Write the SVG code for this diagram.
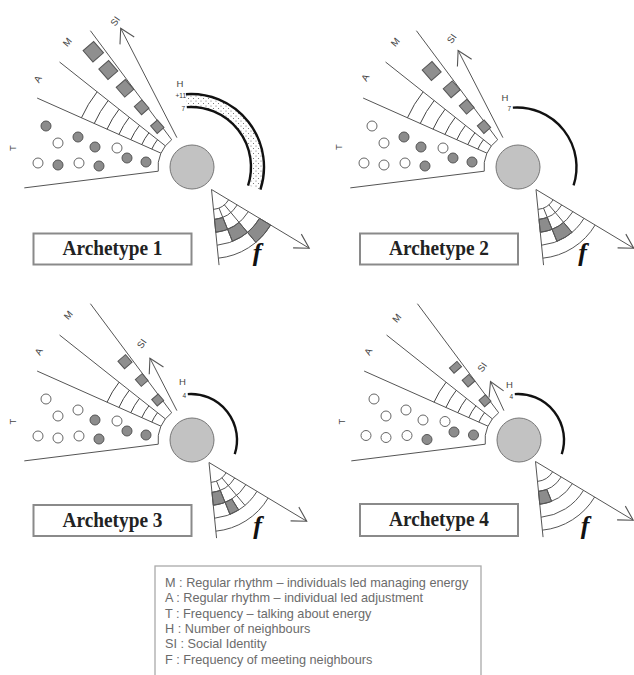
<svg xmlns="http://www.w3.org/2000/svg" xmlns:xlink="http://www.w3.org/1999/xlink" width="634" height="675" viewBox="0 0 634 675">
<style>
.ln{fill:none;stroke:#555;stroke-width:1}
.arc{fill:none;stroke:#444;stroke-width:1}
.hub{fill:#c2c2c2;stroke:#777;stroke-width:1}
.dw{fill:#fff;stroke:#666;stroke-width:1}
.df{fill:#8c8c8c;stroke:#555;stroke-width:1}
.sq{fill:#8f8f8f;stroke:#555;stroke-width:1}
.cell{fill:#8c8c8c;stroke:#555;stroke-width:1}
.harc{fill:none;stroke:#111;stroke-width:2.4}
.lbl{font-family:"Liberation Sans",Arial,sans-serif;font-size:9.5px;fill:#444;text-anchor:middle;dominant-baseline:central}
.tiny{font-family:"Liberation Sans",Arial,sans-serif;font-size:6.5px;fill:#333;text-anchor:end}
.box{fill:#fff;stroke:#8a8a8a;stroke-width:2}
.title{font-family:"Liberation Serif","Times New Roman",serif;font-weight:bold;font-size:22px;fill:#222;text-anchor:middle}
.fl{font-family:"Liberation Serif","Times New Roman",serif;font-weight:bold;font-style:italic;font-size:26px;fill:#111;text-anchor:middle}
.leg{font-family:"Liberation Sans",Arial,sans-serif;font-size:12.7px;fill:#6b6b6b}
.conn{fill:none;stroke:#555;stroke-width:1;marker-end:url(#ah)}
</style>
<defs>
<marker id="ah" markerUnits="userSpaceOnUse" markerWidth="20" markerHeight="20" viewBox="-17 -10 20 20" refX="0" refY="0" orient="auto" overflow="visible">
<path d="M-14,-8 L0,0 L-14,8" fill="none" stroke="#555" stroke-width="1.1"/>
</marker>
<pattern id="stip" width="5" height="5" patternUnits="userSpaceOnUse">
<rect width="5" height="5" fill="#fff"/>
<circle cx="1" cy="1" r="0.55" fill="#666"/>
<circle cx="3.5" cy="3.5" r="0.55" fill="#666"/>
</pattern>
<g id="fanBase">
<line class="ln" x1="158.26" y1="171.2" x2="24.3" y2="187.89"/>
<line class="ln" x1="160.94" y1="153.17" x2="37.15" y2="98.06"/>
<line class="ln" x1="165.35" y1="145.88" x2="59.56" y2="62.03"/>
<line class="ln" x1="171.68" y1="139.74" x2="90.4" y2="30.7"/>
<path class="ln" d="M158.26,171.2 A34,34 0 0 1 171.68,139.74"/>
</g>
<g id="aArcs5">
<path class="arc" d="M107.04,129.17 A93,93 0 0 1 119.12,109.23"/>
<path class="arc" d="M118.92,134.46 A80,80 0 0 1 129.3,117.31"/>
<path class="arc" d="M130.79,139.75 A67,67 0 0 1 139.49,125.38"/>
<path class="arc" d="M141.75,144.63 A55,55 0 0 1 148.9,132.84"/>
<path class="arc" d="M151.8,149.1 A44,44 0 0 1 157.52,139.67"/>
</g>
<g id="aArcs7">
<path class="arc" d="M81.46,117.78 A121,121 0 0 1 97.17,91.84"/>
<path class="arc" d="M94.25,123.48 A107,107 0 0 1 108.15,100.54"/>
<use xlink:href="#aArcs5"/>
</g>
<g id="fGrid">
<line class="ln" x1="211.5" y1="189.5" x2="219.05" y2="265.12"/>
<path class="ln" d="M213.49,209.4 A20,20 0 0 0 228.64,199.8"/>
<path class="ln" d="M214.48,219.35 A30,30 0 0 0 237.22,204.95"/>
<path class="ln" d="M215.77,232.29 A43,43 0 0 0 248.36,211.65"/>
<path class="ln" d="M217.06,245.22 A56,56 0 0 0 259.5,218.34"/>
<path class="ln" d="M218.35,258.16 A69,69 0 0 0 270.64,225.04"/>
</g>
<g id="ring01div">
<line class="ln" x1="218.99" y1="208.04" x2="227.61" y2="229.37"/>
<line class="ln" x1="224.36" y1="204.82" x2="239.14" y2="222.44"/>
</g>
<circle id="hubC" class="hub" cx="192" cy="167" r="22"/>
</defs>

<!-- Archetype 1 -->
<g id="archetype-1">
<g id="a1-fan">
<use xlink:href="#fanBase"/>
<use xlink:href="#aArcs7"/>
</g>
<g id="a1-dots">
<circle class="df" cx="46" cy="126" r="5"/>
<circle class="dw" cx="58" cy="143" r="5"/>
<circle class="df" cx="78" cy="137" r="5"/>
<circle class="df" cx="95" cy="147" r="5"/>
<circle class="dw" cx="117" cy="148" r="5"/>
<circle class="dw" cx="38" cy="163" r="5"/>
<circle class="df" cx="58" cy="165" r="5"/>
<circle class="dw" cx="79" cy="163" r="5"/>
<circle class="df" cx="99" cy="166" r="5"/>
<circle class="df" cx="127" cy="158" r="5"/>
<circle class="df" cx="146" cy="162" r="5"/>
</g>
<g id="a1-squares">
<rect class="sq" x="-7.5" y="-7" width="15" height="14" transform="translate(93.3,51.7) rotate(49)"/>
<rect class="sq" x="-7" y="-6.5" width="14" height="13" transform="translate(108.3,70) rotate(49)"/>
<rect class="sq" x="-6.5" y="-6" width="13" height="12" transform="translate(125,88.3) rotate(49)"/>
<rect class="sq" x="-5.5" y="-5" width="11" height="10" transform="translate(141.7,107.3) rotate(49)"/>
<rect class="sq" x="-5" y="-4.5" width="10" height="9" transform="translate(157.3,126.7) rotate(49)"/>
</g>
<g id="a1-labels">
<text class="lbl" transform="translate(12,148) rotate(-90)">T</text>
<text class="lbl" transform="translate(37.5,79) rotate(-60)">A</text>
<text class="lbl" transform="translate(67,42) rotate(-50)">M</text>
<text class="lbl" transform="translate(115,21) rotate(-55)">SI</text>
<text class="lbl" x="180" y="83">H</text>
<text class="tiny" x="186" y="98">+11</text>
<text class="tiny" x="185" y="110.5">7</text>
</g>
<g id="a1-hub"><use xlink:href="#hubC"/></g>
<g id="a1-neighbours">
<path d="M185.91,94.18 A73,73 0 0 1 260.43,189.56 L248.06,185.54 A60,60 0 0 0 186.81,107.15 Z" fill="url(#stip)" stroke="none"/>
<path class="harc" d="M185.91,94.18 A73,73 0 0 1 260.43,189.56" stroke-width="2.6"/>
<path class="harc" d="M186.81,107.15 A60,60 0 0 1 248.06,185.54" stroke-width="2"/>
</g>
<g id="a1-frequency">
<path class="cell" d="M214.48,219.35 L215.77,232.29 A43,43 0 0 0 227.61,229.37 L222.74,217.32 A30,30 0 0 1 214.48,219.35 Z"/>
<path class="cell" d="M227.61,229.37 L232.48,241.42 A56,56 0 0 0 247.5,232.4 L239.14,222.44 A43,43 0 0 1 227.61,229.37 Z"/>
<path class="cell" d="M247.5,232.4 L255.85,242.36 A69,69 0 0 0 270.64,225.04 L259.5,218.34 A56,56 0 0 1 247.5,232.4 Z"/>
<use xlink:href="#fGrid"/>
<use xlink:href="#ring01div"/>
<line class="ln" x1="227.61" y1="229.37" x2="232.48" y2="241.42"/>
<line class="ln" x1="239.14" y1="222.44" x2="247.5" y2="232.4"/>
<line class="ln" x1="247.5" y1="232.4" x2="255.85" y2="242.36"/>
<text class="fl" x="257" y="261">f</text>
</g>
<g id="a1-title">
<rect class="box" x="33.5" y="233.5" width="158" height="31"/>
<text class="title" x="112.5" y="255" textLength="100" lengthAdjust="spacingAndGlyphs">Archetype 1</text>
</g>
</g>

<!-- Archetype 2 -->
<g id="archetype-2" transform="translate(326,0)">
<g id="a2-fan">
<use xlink:href="#fanBase"/>
<use xlink:href="#aArcs7"/>
</g>
<g id="a2-dots">
<circle class="dw" cx="46" cy="126" r="5"/>
<circle class="dw" cx="58" cy="143" r="5"/>
<circle class="df" cx="78" cy="137" r="5"/>
<circle class="df" cx="95" cy="147" r="5"/>
<circle class="dw" cx="117" cy="148" r="5"/>
<circle class="dw" cx="38" cy="163" r="5"/>
<circle class="dw" cx="58" cy="165" r="5"/>
<circle class="dw" cx="79" cy="163" r="5"/>
<circle class="df" cx="99" cy="166" r="5"/>
<circle class="df" cx="127" cy="158" r="5"/>
<circle class="df" cx="146" cy="162" r="5"/>
</g>
<g id="a2-squares">
<rect class="sq" x="-7" y="-6.5" width="14" height="13" transform="translate(105.7,71) rotate(49)"/>
<rect class="sq" x="-6" y="-6" width="12" height="12" transform="translate(125.7,89.3) rotate(49)"/>
<rect class="sq" x="-5.5" y="-5" width="11" height="10" transform="translate(140.7,106.7) rotate(49)"/>
<rect class="sq" x="-5" y="-4.5" width="10" height="9" transform="translate(158,126.7) rotate(49)"/>
</g>
<g id="a2-labels">
<text class="lbl" transform="translate(12.5,147) rotate(-90)">T</text>
<text class="lbl" transform="translate(39,77.5) rotate(-60)">A</text>
<text class="lbl" transform="translate(69,42) rotate(-50)">M</text>
<text class="lbl" transform="translate(125.5,38.5) rotate(-55)">SI</text>
<text class="lbl" x="179" y="97">H</text>
<text class="tiny" x="185" y="110.5">7</text>
</g>
<g id="a2-hub"><use xlink:href="#hubC"/></g>
<g id="a2-neighbours">
<path class="harc" d="M186.85,107.65 A59.5,59.5 0 0 1 247.59,185.39"/>
</g>
<g id="a2-frequency" transform="translate(-1.5,0)">
<path class="cell" d="M214.48,219.35 L215.77,232.29 A43,43 0 0 0 227.61,229.37 L222.74,217.32 A30,30 0 0 1 214.48,219.35 Z"/>
<path class="cell" d="M227.61,229.37 L232.48,241.42 A56,56 0 0 0 247.5,232.4 L239.14,222.44 A43,43 0 0 1 227.61,229.37 Z"/>
<use xlink:href="#fGrid"/>
<use xlink:href="#ring01div"/>
<line class="ln" x1="227.61" y1="229.37" x2="232.48" y2="241.42"/>
<line class="ln" x1="239.14" y1="222.44" x2="247.5" y2="232.4"/>
<text class="fl" x="258" y="261">f</text>
</g>
<g id="a2-title">
<rect class="box" x="34" y="233.5" width="158" height="31"/>
<text class="title" x="113" y="255" textLength="100" lengthAdjust="spacingAndGlyphs">Archetype 2</text>
</g>
</g>

<!-- Archetype 3 -->
<g id="archetype-3" transform="translate(0,273)">
<g id="a3-fan">
<use xlink:href="#fanBase"/>
<use xlink:href="#aArcs5"/>
</g>
<g id="a3-dots">
<circle class="dw" cx="46" cy="126" r="5"/>
<circle class="dw" cx="58" cy="143" r="5"/>
<circle class="dw" cx="78" cy="137" r="5"/>
<circle class="df" cx="95" cy="147" r="5"/>
<circle class="dw" cx="117" cy="148" r="5"/>
<circle class="dw" cx="38" cy="163" r="5"/>
<circle class="dw" cx="58" cy="165" r="5"/>
<circle class="dw" cx="79" cy="163" r="5"/>
<circle class="df" cx="99" cy="166" r="5"/>
<circle class="df" cx="127" cy="158" r="5"/>
<circle class="df" cx="146" cy="162" r="5"/>
</g>
<g id="a3-squares">
<rect class="sq" x="-5" y="-5" width="10" height="10" transform="translate(125,88.7) rotate(49)"/>
<rect class="sq" x="-4.5" y="-4.5" width="9" height="9" transform="translate(141.7,107) rotate(49)"/>
<rect class="sq" x="-4.25" y="-4.25" width="8.5" height="8.5" transform="translate(157.7,127) rotate(49)"/>
</g>
<g id="a3-labels">
<text class="lbl" transform="translate(12.5,148.5) rotate(-90)">T</text>
<text class="lbl" transform="translate(38.5,78.5) rotate(-60)">A</text>
<text class="lbl" transform="translate(68,42) rotate(-50)">M</text>
<text class="lbl" transform="translate(141.5,70.5) rotate(-55)">SI</text>
<text class="lbl" x="182.5" y="108.5">H</text>
<text class="tiny" x="186" y="124.5">4</text>
</g>
<g id="a3-hub"><use xlink:href="#hubC"/></g>
<g id="a3-neighbours">
<path class="harc" d="M187.79,121.11 A46,46 0 0 1 234.75,181.22"/>
</g>
<g id="a3-frequency" transform="translate(-2.5,0)">
<path class="cell" d="M214.48,219.35 L215.77,232.29 A43,43 0 0 0 227.61,229.37 L222.74,217.32 A30,30 0 0 1 214.48,219.35 Z"/>
<path class="cell" d="M227.61,229.37 L232.48,241.42 A56,56 0 0 0 241.18,236.99 L234.29,225.97 A43,43 0 0 1 227.61,229.37 Z"/>
<use xlink:href="#fGrid"/>
<use xlink:href="#ring01div"/>
<line class="ln" x1="227.61" y1="229.37" x2="232.48" y2="241.42"/>
<line class="ln" x1="234.29" y1="225.97" x2="241.18" y2="236.99"/>
<line class="ln" x1="239.14" y1="222.44" x2="247.5" y2="232.4"/>
<text class="fl" x="260" y="261">f</text>
</g>
<g id="a3-title">
<rect class="box" x="33.5" y="232" width="158" height="31"/>
<text class="title" x="112.5" y="253.5" textLength="100" lengthAdjust="spacingAndGlyphs">Archetype 3</text>
</g>
</g>

<!-- Archetype 4 -->
<g id="archetype-4" transform="translate(327,273)">
<g id="a4-fan">
<use xlink:href="#fanBase"/>
<use xlink:href="#aArcs5"/>
</g>
<g id="a4-dots">
<circle class="dw" cx="47" cy="126" r="5"/>
<circle class="dw" cx="59" cy="143" r="5"/>
<circle class="dw" cx="79" cy="137" r="5"/>
<circle class="dw" cx="96" cy="147" r="5"/>
<circle class="dw" cx="118" cy="148.5" r="5"/>
<circle class="dw" cx="39" cy="162.5" r="5"/>
<circle class="dw" cx="59" cy="164.5" r="5"/>
<circle class="dw" cx="80" cy="162.5" r="5"/>
<circle class="df" cx="100" cy="166.5" r="5"/>
<circle class="df" cx="127" cy="159" r="5"/>
<circle class="df" cx="146.5" cy="162" r="5"/>
</g>
<g id="a4-squares">
<rect class="sq" x="-3.5" y="-5" width="7" height="10" transform="translate(128.5,94.3) rotate(49)"/>
<rect class="sq" x="-4.5" y="-4.5" width="9" height="9" transform="translate(141.5,107.7) rotate(49)"/>
<rect class="sq" x="-4.25" y="-4.25" width="8.5" height="8.5" transform="translate(158,127.7) rotate(49)"/>
</g>
<g id="a4-labels">
<text class="lbl" transform="translate(14.5,148.5) rotate(-90)">T</text>
<text class="lbl" transform="translate(41,78.5) rotate(-60)">A</text>
<text class="lbl" transform="translate(69.5,45) rotate(-50)">M</text>
<text class="lbl" transform="translate(155,94) rotate(-55)">SI</text>
<text class="lbl" x="182.5" y="111">H</text>
<text class="tiny" x="186" y="125.5">4</text>
</g>
<g id="a4-hub"><use xlink:href="#hubC"/></g>
<g id="a4-neighbours">
<path class="harc" d="M187.79,121.11 A46,46 0 0 1 234.75,181.22"/>
</g>
<g id="a4-frequency" transform="translate(-3,-1)">
<path class="cell" d="M214.48,219.35 L215.77,232.29 A43,43 0 0 0 227.61,229.37 L222.74,217.32 A30,30 0 0 1 214.48,219.35 Z"/>
<use xlink:href="#fGrid"/>
<line class="ln" x1="222.74" y1="217.32" x2="227.61" y2="229.37"/>
<text class="fl" x="261" y="262">f</text>
</g>
<g id="a4-title">
<rect class="box" x="33" y="231" width="158" height="32"/>
<text class="title" x="112" y="253" textLength="100" lengthAdjust="spacingAndGlyphs">Archetype 4</text>
</g>
</g>

<!-- Connectors: SI arrows and frequency arrows -->
<g id="connectors">
<g transform="translate(0,0)">
<line class="conn" x1="176.92" y1="137.65" x2="120.7" y2="28.25"/>
<line class="conn" x1="211.5" y1="189.5" x2="309.22" y2="248.21"/>
</g>
<g transform="translate(326,0)">
<line class="conn" x1="176.92" y1="137.65" x2="132.13" y2="50.49"/>
<line class="conn" x1="210" y1="189.5" x2="307.72" y2="248.21"/>
</g>
<g transform="translate(0,273)">
<line class="conn" x1="176.92" y1="137.65" x2="149.95" y2="85.17"/>
<line class="conn" x1="209" y1="189.5" x2="306.72" y2="248.21"/>
</g>
<g transform="translate(327,273)">
<line class="conn" x1="176.92" y1="137.65" x2="163.5" y2="108.5"/>
<line class="conn" x1="208.5" y1="188.5" x2="306.22" y2="247.21"/>
</g>
</g>

<!-- Legend -->
<g id="legend">
<rect x="155" y="566" width="326" height="120" fill="#fff" stroke="#aaa" stroke-width="1.3"/>
<text class="leg" x="165" y="587">M : Regular rhythm – individuals led managing energy</text>
<text class="leg" x="165" y="602.3">A : Regular rhythm – individual led adjustment</text>
<text class="leg" x="165" y="617.6">T : Frequency – talking about energy</text>
<text class="leg" x="165" y="632.9">H : Number of neighbours</text>
<text class="leg" x="165" y="648.2">SI : Social Identity</text>
<text class="leg" x="165" y="663.5">F : Frequency of meeting neighbours</text>
</g>
</svg>
